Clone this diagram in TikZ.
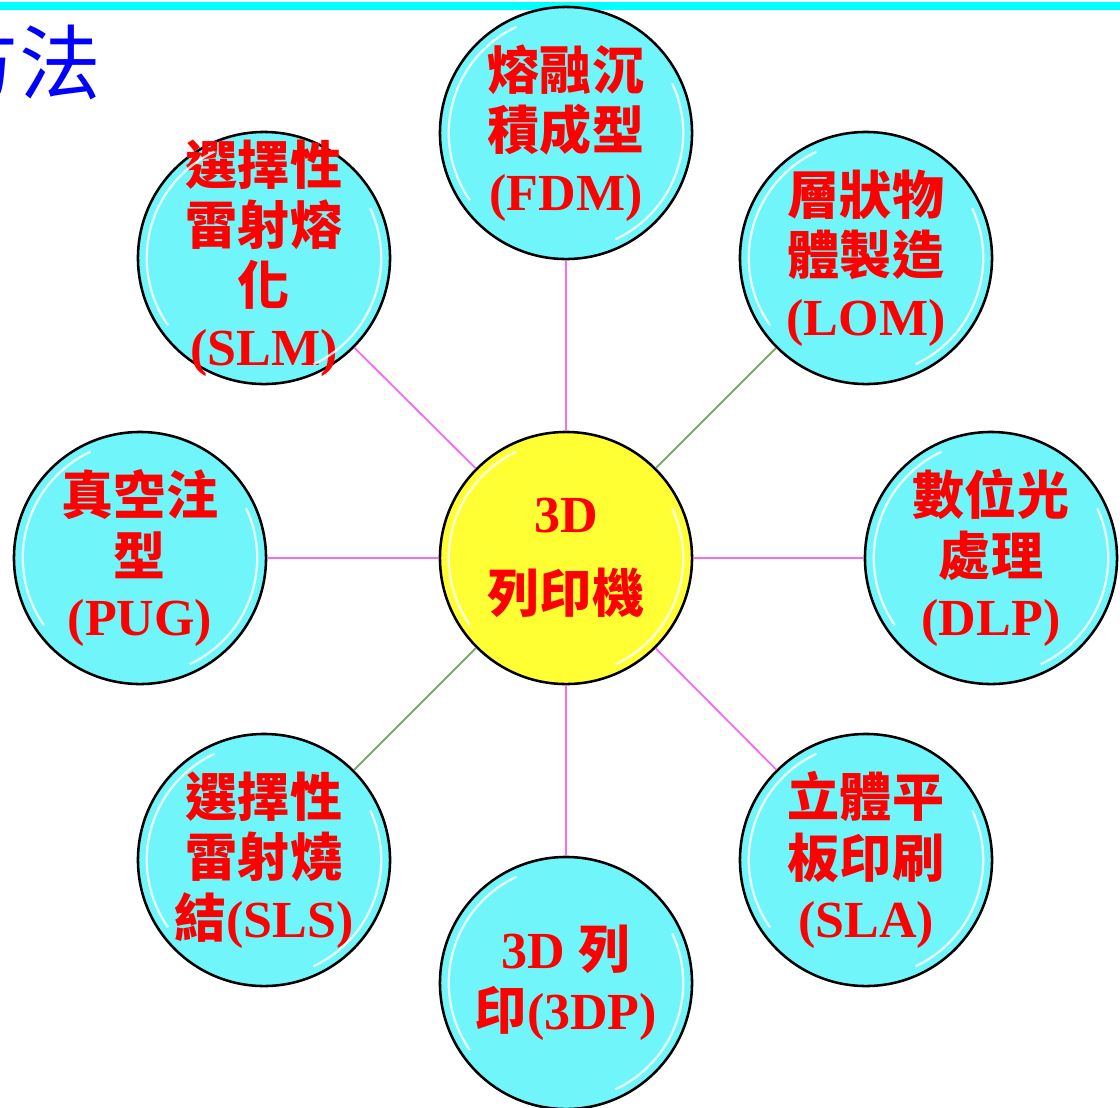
\documentclass[tikz,border=0pt]{standalone}
\usepackage{fontspec}
\setmainfont{Liberation Serif}
\newfontfamily\zhfont{Noto Sans CJK TC}
\newcommand{\zh}[1]{{\zhfont #1}}
\definecolor{topcyan}{RGB}{0,255,255}
\definecolor{ballcyan}{RGB}{112,246,250}
\definecolor{ballyellow}{RGB}{255,255,51}
\definecolor{linkpink}{RGB}{240,110,240}
\definecolor{linkgreen}{RGB}{120,170,100}
\definecolor{titleblue}{RGB}{0,0,255}
\tikzset{ball/.style={circle,draw=black,line width=1.8pt,fill=ballcyan,
    minimum size=6.3cm,inner sep=0pt,align=center,text=red,
    font=\bfseries\fontsize{37}{43}\selectfont},
  hubball/.style={ball,fill=ballyellow},
  pinklink/.style={draw=linkpink,line width=1.3pt},
  greenlink/.style={draw=linkgreen,line width=1.3pt},
  gloss/.style={white,line width=1.6pt,opacity=0.85}}

\begin{document}
\begin{tikzpicture}[x=0.025cm,y=-0.025cm]
  \useasboundingbox (0,0) rectangle (1120,1107);
  \fill[topcyan] (0,2) rectangle (1120,10);
  \node[anchor=east,text=titleblue,font=\zhfont\fontsize{58}{58}\selectfont]
    (title) at (106,62) {方法};
  % center and the eight methods
  \node[hubball] (hub) at (566,558) {3D\\[14pt]\zh{列印機}};
  \node[ball] (fdm) at (566,133) {\zh{熔融沉}\\\zh{積成型}\\(FDM)};
  \node[ball] (lom) at (866,258) {\zh{層狀物}\\\zh{體製造}\\(LOM)};
  \node[ball] (dlp) at (991,558) {\zh{數位光}\\\zh{處理}\\(DLP)};
  \node[ball] (sla) at (866,860) {\zh{立體平}\\\zh{板印刷}\\(SLA)};
  \node[ball] (tdp) at (566,983) {3D \zh{列}\\\zh{印}(3DP)};
  \node[ball] (sls) at (264,860) {\zh{選擇性}\\\zh{雷射燒}\\\zh{結}(SLS)};
  \node[ball] (pug) at (140,558) {\zh{真空注}\\\zh{型}\\(PUG)};
  \node[ball,inner sep=-18pt] (slm) at (264,258) {\zh{選擇性}\\\zh{雷射熔}\\\zh{化}\\(SLM)};
  \foreach \n in {fdm,dlp,sla,tdp,pug,slm}
    \draw[pinklink] (hub) -- (\n);
  \foreach \n in {lom,sls}
    \draw[greenlink] (hub) -- (\n);
  \foreach \n in {hub,fdm,lom,dlp,sla,tdp,sls,pug,slm}{
    \draw[gloss] ([shift={(115:2.93cm)}]\n.center) arc[start angle=115,end angle=215,radius=2.93cm];
    \draw[gloss] ([shift={(-65:2.93cm)}]\n.center) arc[start angle=-65,end angle=25,radius=2.93cm];
  }
\end{tikzpicture}
\end{document}
